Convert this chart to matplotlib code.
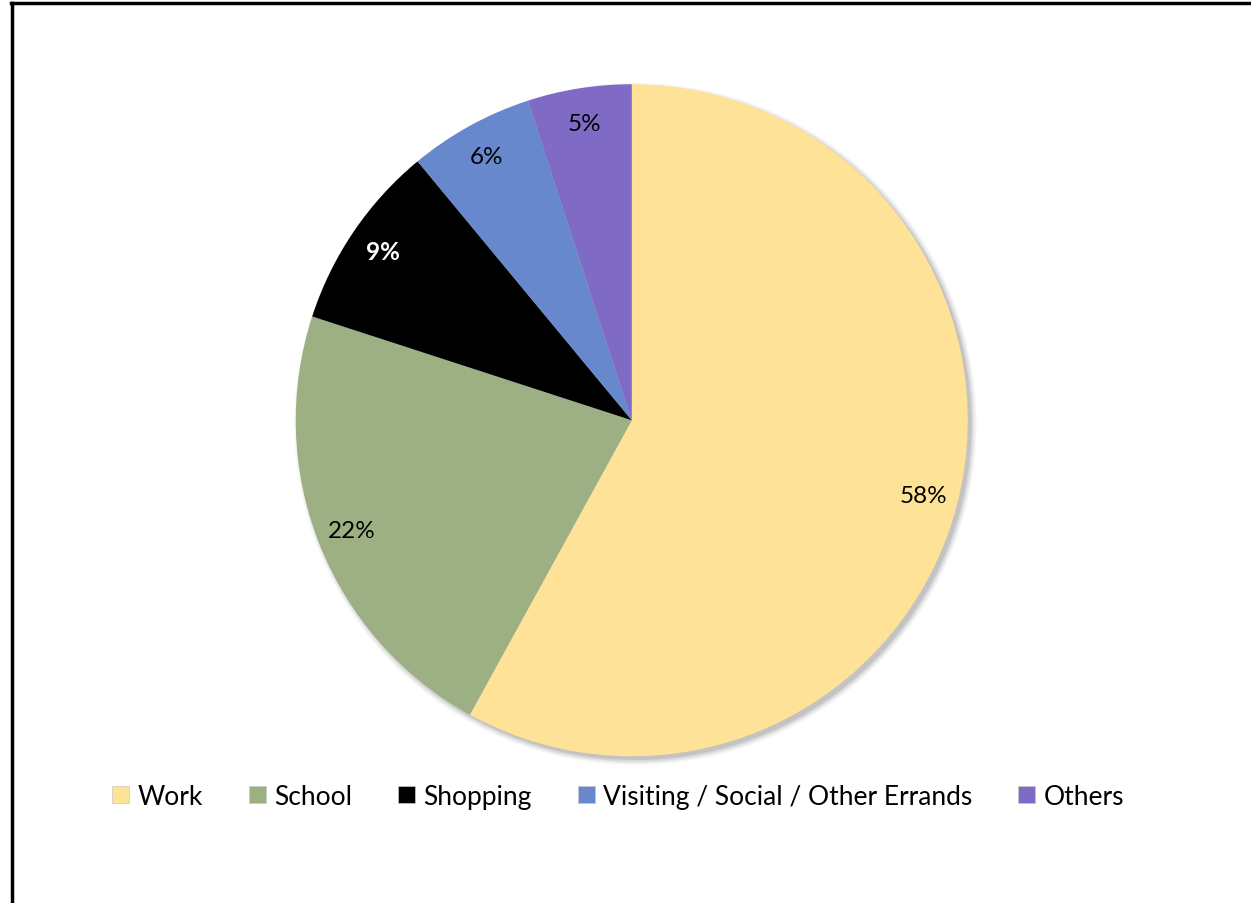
import matplotlib.pyplot as plt
from matplotlib.patches import Circle, Rectangle
from matplotlib.lines import Line2D

plt.rcParams['font.family'] = ['Lato', 'DejaVu Sans']

categories = ["Work", "School", "Shopping", "Visiting / Social / Other Errands", "Others"]
shares = [58, 22, 9, 6, 5]
colors = ["#FEE297", "#9DB084", "#000000", "#6788CD", "#7F6AC6"]
label_colors = ["#000000", "#000000", "#FFFFFF", "#000000", "#000000"]

fig = plt.figure(figsize=(12.51, 9.04), dpi=100)

# frame line along the top and left edges
fig.add_artist(Line2D([0.0095, 0.0095], [0.0, 0.9955], color="black", lw=2.5,
                      transform=fig.transFigure))
fig.add_artist(Line2D([0.0085, 1.0], [0.9955, 0.9955], color="black", lw=2.5,
                      transform=fig.transFigure))

ax = fig.add_axes([0.505 - 0.2686, 0.534 - 0.3717, 0.5372, 0.7434])

# soft drop shadow behind the pie
for i, a in enumerate([0.04, 0.05, 0.07, 0.09]):
    ax.add_patch(Circle((0.011, -0.011), 1.0 + 0.005 * (3 - i),
                        color="black", alpha=a, lw=0, zorder=0, clip_on=False))

wedges, texts, autotexts = ax.pie(
    shares, colors=colors, startangle=90, counterclock=False,
    autopct="%d%%", pctdistance=0.895, radius=1.0,
    wedgeprops=dict(linewidth=0), textprops=dict(fontsize=17.5))
for w in wedges:
    w.set_zorder(2)
for t, c in zip(autotexts, label_colors):
    t.set_color(c)
    t.set_zorder(3)
autotexts[2].set_fontweight("bold")

ax.set_xlim(-1, 1)
ax.set_ylim(-1, 1)
ax.set_aspect("equal")
ax.axis("off")

handles = [Rectangle((0, 0), 1, 1, facecolor=c, edgecolor="#c8c8c8", lw=0.5) for c in colors]
fig.legend(handles, categories, loc="center", bbox_to_anchor=(0.494, 0.118), ncol=5,
           frameon=False, fontsize=19, handlelength=0.65, handleheight=0.65,
           handletextpad=0.3, columnspacing=1.75)

fig.savefig("out.png", dpi=100, facecolor="white")
